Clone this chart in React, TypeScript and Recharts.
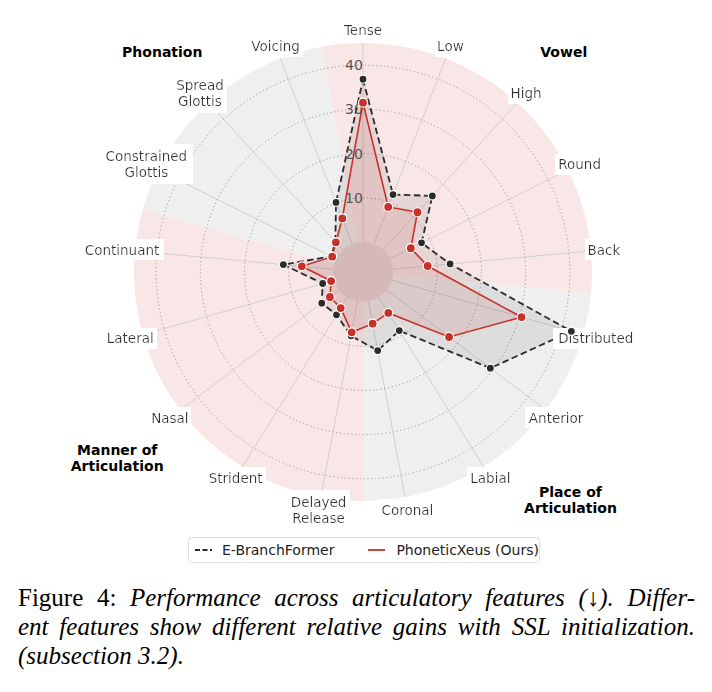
import React from 'react';
import {
  RadarChart,
  Radar,
  PolarGrid,
  PolarAngleAxis,
  PolarRadiusAxis,
  Sector,
} from 'recharts';

// articulatory features, clockwise from the top
const features = [
  'Tense', 'Low', 'High', 'Round', 'Back',
  'Distributed', 'Anterior', 'Labial', 'Coronal',
  'Delayed Release', 'Strident', 'Nasal', 'Lateral', 'Continuant',
  'Constrained Glottis', 'Spread Glottis', 'Voicing',
];
const eBranchFormer = [36.8, 12.0, 16.5, 8.0, 13.0, 42.2, 29.3, 8.8, 11.3, 7.9, 4.6, 4.9, 2.7, 11.3, 1.2, 2.5, 10.1];
const phoneticXeus = [31.5, 9.0, 11.5, 5.3, 7.9, 30.5, 17.6, 4.1, 5.1, 7.1, 2.8, 2.6, 0.7, 7.1, 1.0, 2.3, 6.2];
const radiusTicks = [10, 20, 30, 40];

// feature groups: label, first and last feature index
const groupLabels = ['Vowel', 'Place of Articulation', 'Manner of Articulation', 'Phonation'];
const groupFirst = [0, 5, 9, 14];
const groupLast = [4, 8, 13, 16];

const PINK = '#f9e6e6';
const GREY = '#efefef';
const BLACK = '#2b2b2b';
const RED = '#c8302a';
const FONT = '"DejaVu Sans", Verdana, sans-serif';

const W = 696;
const H = 560;
const CX = 355;
const CY = 264;
const R_IN = 30;
const R_OUT = 229;
const STEP = 360 / features.length;
const angleOf = (i: number) => 90 - i * STEP;

const data = features.map((feature, i) => ({
  feature,
  eb: eBranchFormer[i],
  px: phoneticXeus[i],
}));

const AngleTick = (props: any) => {
  const { x, y, payload } = props;
  const lines = String(payload.value).split(' ');
  const lh = 16;
  return (
    <text
      x={x}
      y={y}
      textAnchor="middle"
      dominantBaseline="central"
      fontSize={13.5}
      fontFamily={FONT}
      fill="#333"
      filter="url(#labelBg)"
    >
      {lines.map((l, k) => (
        <tspan key={k} x={x} y={y + (k - (lines.length - 1) / 2) * lh}>
          {l}
        </tspan>
      ))}
    </text>
  );
};

const RadiusTick = (props: any) => {
  const { x, y, payload } = props;
  return (
    <text x={x - 9} y={y} textAnchor="middle" dominantBaseline="central" fontSize={14} fontFamily={FONT} fill="#555">
      {payload.value}
    </text>
  );
};

function Backdrop() {
  return (
    <svg width={W} height={H} style={{ position: 'absolute', left: 0, top: 0 }}>
      <defs>
        <filter id="labelBg" x="-0.06" y="-0.12" width="1.12" height="1.24">
          <feFlood floodColor="#ffffff" />
          <feComposite in="SourceGraphic" />
        </filter>
      </defs>
      {groupLabels.map((g, k) => (
        <Sector
          key={g}
          cx={CX}
          cy={CY}
          innerRadius={0}
          outerRadius={R_OUT}
          startAngle={angleOf(groupFirst[k]) + STEP / 2}
          endAngle={angleOf(groupLast[k]) - STEP / 2}
          fill={k % 2 === 0 ? PINK : GREY}
          stroke="none"
        />
      ))}
      <circle cx={CX} cy={CY} r={R_IN} fill="#e7d9d9" />
      {groupLabels.map((g, k) => {
        const mid = angleOf((groupFirst[k] + groupLast[k]) / 2);
        const words = g.split(' ');
        const lines = words.length > 1 ? [words.slice(0, -1).join(' '), words[words.length - 1]] : words;
        const r = 298 + 10 * (lines.length - 1);
        const x = CX + r * Math.cos((mid * Math.PI) / 180);
        const y = CY - r * Math.sin((mid * Math.PI) / 180);
        return (
          <text key={g} textAnchor="middle" dominantBaseline="central" fontSize={14} fontWeight="bold" fontFamily={FONT} fill="#000">
            {lines.map((l, j) => (
              <tspan key={j} x={x} y={y + (j - (lines.length - 1) / 2) * 16}>
                {l}
              </tspan>
            ))}
          </text>
        );
      })}
    </svg>
  );
}

function LegendBox() {
  return (
    <div
      style={{
        position: 'absolute',
        left: 180,
        top: 529,
        width: 350,
        height: 24,
        border: '1px solid #dddddd',
        borderRadius: 4,
        background: '#fff',
        display: 'flex',
        alignItems: 'center',
        fontFamily: FONT,
        fontSize: 14,
        color: '#222',
      }}
    >
      <svg width={18} height={10} style={{ marginLeft: 6 }}>
        <line x1={0} y1={5} x2={17} y2={5} stroke={BLACK} strokeWidth={1.8} strokeDasharray="5 2.5" />
      </svg>
      <span style={{ marginLeft: 9 }}>E-BranchFormer</span>
      <svg width={18} height={10} style={{ marginLeft: 34 }}>
        <line x1={0} y1={5} x2={17} y2={5} stroke={RED} strokeWidth={1.8} />
      </svg>
      <span style={{ marginLeft: 10 }}>PhoneticXeus (Ours)</span>
    </div>
  );
}

export default function App() {
  const lineStyle: React.CSSProperties = { whiteSpace: 'nowrap', textAlign: 'justify', textAlignLast: 'justify' as any };
  return (
    <div style={{ position: 'relative', width: W, height: 684 }}>
      <Backdrop />
      <div style={{ position: 'absolute', left: 0, top: 0 }}>
        <RadarChart
          width={W}
          height={H}
          data={data}
          cx={CX}
          cy={CY}
          innerRadius={R_IN}
          outerRadius={R_OUT}
          margin={{ top: 0, right: 0, bottom: 0, left: 0 }}
        >
          <PolarGrid gridType="circle" radialLines polarRadius={[]} stroke="#cccccc" strokeWidth={0.9} />
          <PolarGrid gridType="circle" radialLines={false} stroke="#9a9a9a" strokeWidth={1} strokeDasharray="1.2 2.6" />
          <PolarAngleAxis dataKey="feature" tick={<AngleTick />} tickSize={13} axisLine={false} tickLine={false} />
          <PolarRadiusAxis
            angle={90}
            type="number"
            domain={[0, 45]}
            ticks={radiusTicks}
            axisLine={false}
            tickLine={false}
            tick={<RadiusTick />}
          />
          <Radar
            name="E-BranchFormer"
            dataKey="eb"
            stroke={BLACK}
            strokeWidth={1.8}
            strokeDasharray="6.5 3.5"
            fill="#5a5a5a"
            fillOpacity={0.12}
            dot={{ r: 4, fill: BLACK, stroke: '#fff', strokeWidth: 1.2, strokeDasharray: 'none', fillOpacity: 1 }}
            isAnimationActive={false}
          />
          <Radar
            name="PhoneticXeus (Ours)"
            dataKey="px"
            stroke={RED}
            strokeWidth={1.6}
            fill={RED}
            fillOpacity={0.1}
            dot={{ r: 4.5, fill: RED, stroke: '#fff', strokeWidth: 1.2, fillOpacity: 1 }}
            isAnimationActive={false}
          />
        </RadarChart>
      </div>
      <LegendBox />
      <div
        style={{
          position: 'absolute',
          left: 10,
          top: 575,
          width: 677,
          fontFamily: '"Liberation Serif", "Times New Roman", serif',
          fontSize: 25,
          lineHeight: '29px',
          color: '#000',
        }}
      >
        <div style={lineStyle}>
          Figure 4: <i>Performance across articulatory features (↓). Differ-</i>
        </div>
        <div style={lineStyle}>
          <i>ent features show different relative gains with SSL initialization.</i>
        </div>
        <div>
          <i>(subsection 3.2).</i>
        </div>
      </div>
    </div>
  );
}
